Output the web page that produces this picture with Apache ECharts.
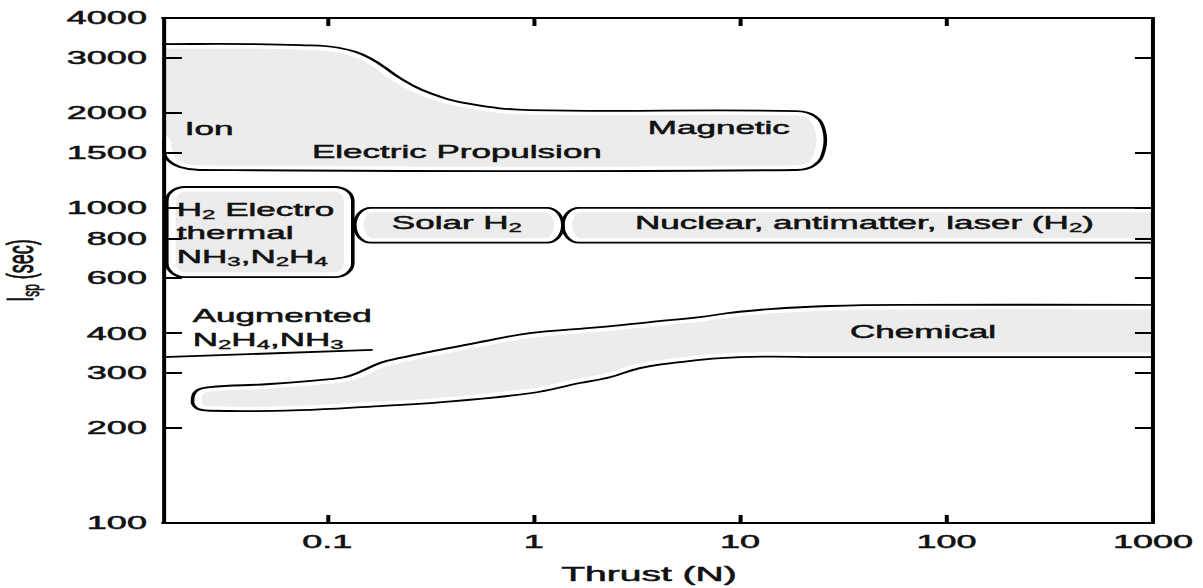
<!DOCTYPE html>
<html>
<head>
<meta charset="utf-8">
<title>Specific impulse vs thrust</title>
<script src="https://cdn.jsdelivr.net/npm/echarts@6/dist/echarts.min.js"></script>
<style>
  html, body { margin: 0; padding: 0; background: #fff; overflow: hidden; width: 1203px; height: 588px; }
  /* the figure is drawn at half width and widened, giving its broad lettering */
  #chart { width: 601px; height: 588px; transform-origin: 0 0; transform: scaleX(2.001664); }
</style>
</head>
<body>
<div id="chart"></div>
<script>
// ---- axes -------------------------------------------------------------
const thrustRange = [0.016, 1000];                 // N
const ispRange = [100, 4000];                      // s
const thrustTicks = [0.1, 1, 10, 100, 1000];
const thrustTickLabels = ['0.1', '1', '10', '100', '1000'];
const thrustTicksTop = [0.1, 1, 10, 100];
const ispTicks = [100, 200, 300, 400, 600, 800, 1000, 1500, 2000, 3000, 4000];
const ispTicksRight = [200, 300, 400, 600, 800, 1000, 1500, 3000];

// ---- regions: outline vertices as [thrust (N), Isp (s)] ------------------
// (vertices beyond the axis limits close the outlines outside the frame)
const electricPropulsion = [
  [0.008, 3307], [0.016, 3307], [0.0422, 3307], [0.0737, 3282], [0.115, 3213],
  [0.161, 2986], [0.225, 2580], [0.314, 2312], [0.491, 2135], [0.96, 2042],
  [18.8, 2027], [23.0, 1955], [25.5, 1765], [25.5, 1525], [23.0, 1366],
  [18.8, 1318], [0.0241, 1318], [0.0193, 1347], [0.0169, 1418], [0.016, 1525],
  [0.0152, 1650], [0.008, 1650]
];
const chemical = [
  [0.0223, 249], [0.0235, 264], [0.027, 270], [0.0527, 276], [0.103, 286],
  [0.129, 293], [0.18, 322], [0.225, 334], [0.314, 349], [0.548, 375],
  [0.96, 400], [2.09, 418], [3.66, 434], [6.38, 450], [8.93, 464],
  [13.9, 477], [27.2, 488], [60, 492], [1000, 492], [100000, 492],
  [100000, 336], [1000, 336], [27.2, 336], [9.98, 336], [5.11, 324],
  [3.27, 310], [2.34, 290], [1.675, 278], [0.96, 258], [0.314, 240],
  [0.18, 235], [0.0737, 228], [0.027, 227], [0.0231, 232]
];
// rounded bands: [thrust min, thrust max, Isp min, Isp max]
const electrothermal = [0.0167, 0.133, 603, 1164];
const solarH2 = [0.136, 1.385, 775, 1000];
const nuclearH2 = [1.385, 1500, 775, 1000];
// augmented hydrazine / ammonia level
const augmentedLine = [[0.016, 336], [0.166, 354]];

// ---- region captions ----------------------------------------------------
const captionText = [
  '{m|Ion}',
  '{m|Electric Propulsion}',
  '{m|Magnetic}',
  '{m|H}{s|2}{m| Electro}',
  '{m|thermal}',
  '{m|NH}{s|3}{m|,N}{s|2}{m|H}{s|4}',
  '{m|Solar H}{s|2}',
  '{m|Nuclear, antimatter, laser (H}{s|2}{m|)}',
  '{m|Augmented}',
  '{m|N}{s|2}{m|H}{s|4}{m|,NH}{s|3}',
  '{m|Chemical}'
];
const captionThrust = [0.0204, 0.4246, 7.89, 0.01867, 0.01867, 0.01867, 0.4246, 40.0, 0.0223, 0.0223, 76.9];
const captionIsp = [1777, 1503, 1791, 984, 831, 698, 894, 894, 454, 380, 403.5];
const captionAlign = ['left', 'center', 'center', 'left', 'left', 'left', 'center', 'center', 'left', 'left', 'center'];

const FONT = "'Liberation Sans', Arial, Helvetica, sans-serif";
const INK = '#111';
const SHADE = '#ececec';

const regions = [
  { kind: 'poly', pts: electricPropulsion },
  { kind: 'box', box: electrothermal, rl: 9, rr: 9, ry: 14 },
  { kind: 'box', box: solarH2, rl: 8, rr: 8, ry: 18 },
  { kind: 'box', box: nuclearH2, rl: 8, rr: 0, ry: 18 },
  { kind: 'poly', pts: chemical }
];

// path of a box whose corners are quarter ellipses (rl / rr: horizontal radii)
function boxPath(x0, y0, x1, y1, rl, rr, ry) {
  const k = 0.5523;
  ry = Math.min(ry, (y1 - y0) / 2);
  let d = `M${x0 + rl},${y0} L${x1 - rr},${y0}`;
  if (rr > 0) {
    d += ` C${x1 - rr + rr * k},${y0} ${x1},${y0 + ry - ry * k} ${x1},${y0 + ry}`;
    d += ` L${x1},${y1 - ry}`;
    d += ` C${x1},${y1 - ry + ry * k} ${x1 - rr + rr * k},${y1} ${x1 - rr},${y1}`;
  } else {
    d += ` L${x1},${y1}`;
  }
  d += ` L${x0 + rl},${y1}`;
  if (rl > 0) {
    d += ` C${x0 + rl - rl * k},${y1} ${x0},${y1 - ry + ry * k} ${x0},${y1 - ry}`;
    d += ` L${x0},${y0 + ry}`;
    d += ` C${x0},${y0 + ry - ry * k} ${x0 + rl - rl * k},${y0} ${x0 + rl},${y0}`;
  } else {
    d += ` L${x0},${y0}`;
  }
  return d + ' Z';
}

function regionRenderer(shaded) {
  return function (params, api) {
    const r = regions[params.dataIndex];
    let el;
    if (r.kind === 'poly') {
      el = { type: 'polygon', shape: { points: r.pts.map(p => api.coord(p)), smooth: 0.4 } };
    } else {
      const a = api.coord([r.box[0], r.box[3]]);
      const b = api.coord([r.box[1], r.box[2]]);
      el = { type: 'path', shape: { pathData: boxPath(a[0], a[1], b[0], b[1], r.rl, r.rr, r.ry) } };
    }
    el.style = shaded
      ? { fill: SHADE, stroke: '#fff', lineWidth: 9 }
      : { fill: 'none', stroke: '#000', lineWidth: 1.8 };
    return el;
  };
}

// caption text pieces: main run and subscript run
const richStyles = {
  m: { fontSize: 17.5, fontFamily: FONT, fill: INK, stroke: INK, lineWidth: 0.5, lineHeight: 22 },
  s: { fontSize: 12, fontFamily: FONT, fill: INK, stroke: INK, lineWidth: 0.4, lineHeight: 14, verticalAlign: 'bottom' }
};

function thrustLabel(v) {
  const i = thrustTicks.findIndex(t => Math.abs(Math.log10(t) - Math.log10(v)) < 1e-6);
  return i >= 0 ? thrustTickLabels[i] : '';
}

const axisLineStyle = { color: '#000', width: 2 };
const labelStyle = { fontSize: 18, fontFamily: FONT, color: INK, textBorderColor: INK, textBorderWidth: 0.5 };

const chart = echarts.init(document.getElementById('chart'), null, { renderer: 'svg' });
chart.setOption({
  animation: false,
  backgroundColor: '#fff',
  grid: { left: 81.4, right: 25, top: 18, bottom: 65, containLabel: false, outerBoundsMode: 'none' },
  xAxis: [
    {
      type: 'log', logBase: 10, min: thrustRange[0], max: thrustRange[1], position: 'bottom', z: 10,
      axisLine: { show: true, onZero: false, lineStyle: axisLineStyle },
      axisTick: { show: true, inside: true, length: 8, customValues: thrustTicks, lineStyle: axisLineStyle },
      axisLabel: { customValues: thrustTicks, formatter: thrustLabel, margin: 10, ...labelStyle },
      splitLine: { show: false }, minorTick: { show: false },
      name: 'Thrust (N)', nameLocation: 'middle', nameGap: 41,
      nameTextStyle: { ...labelStyle, fontSize: 19.5, padding: [0, 9, 0, 0] }
    },
    {
      type: 'log', logBase: 10, min: thrustRange[0], max: thrustRange[1], position: 'top', z: 10,
      axisLine: { show: true, onZero: false, lineStyle: axisLineStyle },
      axisTick: { show: true, inside: true, length: 8, customValues: thrustTicksTop, lineStyle: axisLineStyle },
      axisLabel: { show: false }, splitLine: { show: false }
    }
  ],
  yAxis: [
    {
      type: 'log', logBase: 10, min: ispRange[0], max: ispRange[1], position: 'left', z: 10,
      axisLine: { show: true, onZero: false, lineStyle: axisLineStyle },
      axisTick: { show: true, inside: true, length: 9.5, customValues: ispTicks, lineStyle: axisLineStyle },
      axisLabel: { customValues: ispTicks, formatter: v => String(Math.round(v)), margin: 8, ...labelStyle },
      splitLine: { show: false }, minorTick: { show: false },
      name: '{i|I}{s|sp}{i| (sec)}', nameLocation: 'middle', nameGap: 60,
      nameTextStyle: {
        fontSize: 18, fontFamily: FONT, color: INK,
        rich: {
          i: { fontSize: 18, fontFamily: FONT, color: INK, lineHeight: 22, textBorderColor: INK, textBorderWidth: 0.5 },
          s: { fontSize: 12, fontFamily: FONT, color: INK, lineHeight: 14, verticalAlign: 'bottom', textBorderColor: INK, textBorderWidth: 0.4 }
        }
      }
    },
    {
      type: 'log', logBase: 10, min: ispRange[0], max: ispRange[1], position: 'right', z: 10,
      axisLine: { show: true, onZero: false, lineStyle: axisLineStyle },
      axisTick: { show: true, inside: true, length: 9, customValues: ispTicksRight, lineStyle: axisLineStyle },
      axisLabel: { show: false }, splitLine: { show: false }
    }
  ],
  series: [
    {
      type: 'custom', name: 'shading', clip: true, silent: true, z: 2,
      data: regions.map(() => [1, 1000]),
      renderItem: regionRenderer(true)
    },
    {
      type: 'custom', name: 'outline', clip: true, silent: true, z: 3,
      data: regions.map(() => [1, 1000]),
      renderItem: regionRenderer(false)
    },
    {
      type: 'line', name: 'augmented', data: augmentedLine, symbol: 'none', silent: true, z: 3,
      lineStyle: { color: '#000', width: 1.8 }
    },
    {
      type: 'custom', name: 'captions', silent: true, z: 4,
      data: captionThrust.map((t, i) => [t, captionIsp[i]]),
      renderItem: function (params, api) {
        const i = params.dataIndex;
        const p = api.coord([captionThrust[i], captionIsp[i]]);
        return {
          type: 'text', x: p[0], y: p[1],
          style: {
            text: captionText[i], rich: richStyles, fill: INK,
            fontSize: 17.5, fontFamily: FONT,
            align: captionAlign[i], verticalAlign: 'middle'
          }
        };
      }
    }
  ]
});
</script>
</body>
</html>
